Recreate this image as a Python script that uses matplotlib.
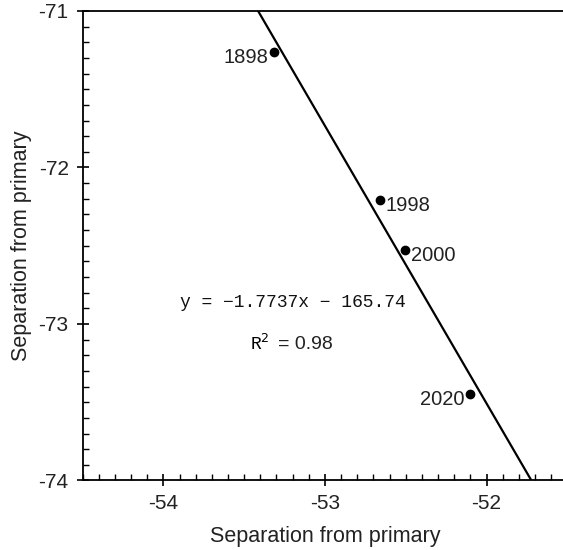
import matplotlib.pyplot as plt
import numpy as np
from matplotlib.ticker import MultipleLocator

# measured separations (x, y) and epoch labels
years = ["1898", "1998", "2000", "2020"]
sep_x = [-53.313, -52.659, -52.503, -52.103]
sep_y = [-71.262, -72.208, -72.530, -73.445]

# linear fit shown on the chart
slope = -1.7737
intercept = -165.74
r2 = 0.98

xlim = (-54.5, -51.5)
ylim = (-74, -71)

plt.rcParams['font.family'] = ['Liberation Sans', 'DejaVu Sans']

fig = plt.figure(figsize=(5.63, 5.5), dpi=100)
ax = fig.add_axes([0.1467, 0.1264, 0.861, 0.8536])

fit_x = np.array(xlim)
ax.plot(fit_x, slope * fit_x + intercept, color='black', lw=1.6, zorder=2)
ax.plot(sep_x, sep_y, 'o', color='black', ms=6, zorder=3)

# year labels: left or right of the point
offsets = {"1898": (-4, -4, 'right'), "1998": (4, -4, 'left'),
           "2000": (4, -4, 'left'), "2020": (-4, -4, 'right')}
for yr, x, y in zip(years, sep_x, sep_y):
    dx, dy, ha = offsets[yr]
    ax.annotate(yr, (x, y), xytext=(dx, dy), textcoords='offset points',
                ha=ha, va='center', fontsize=14.5, color='#222222')

ax.text(-53.2, -72.86, f"y = \u2212{abs(slope)}x \u2212 {abs(intercept)}",
        family='Liberation Mono', fontsize=13, ha='center', va='center',
        color='#111111')
ax.text(-53.34, -73.13, "R$^2$", family='Liberation Mono',
        fontsize=13, ha='right', va='center')
ax.text(-53.29, -73.13, f"= {r2}", fontsize=14, ha='left', va='center',
        color='#222222')

ax.set_xlim(*xlim)
ax.set_ylim(*ylim)
ax.set_xticks([-54, -53, -52])
ax.set_yticks([-74, -73, -72, -71])
ax.set_xticklabels(["-54", "-53", "-52"])
ax.set_yticklabels(["-74", "-73", "-72", "-71"])
ax.xaxis.set_minor_locator(MultipleLocator(0.1))
ax.yaxis.set_minor_locator(MultipleLocator(0.1))
ax.tick_params(which='major', direction='inout', length=8, width=1.2,
               labelsize=15, pad=6, labelcolor='#222222')
ax.tick_params(which='minor', direction='in', length=4, width=1)
ax.tick_params(top=False, right=False, which='both')

for s in ax.spines.values():
    s.set_linewidth(1.3)

ax.set_xlabel("Separation from primary", fontsize=15.5, color='#222222', labelpad=9)
ax.set_ylabel("Separation from primary", fontsize=15.5, color='#222222', labelpad=5)

fig.savefig("out.png", dpi=100)
